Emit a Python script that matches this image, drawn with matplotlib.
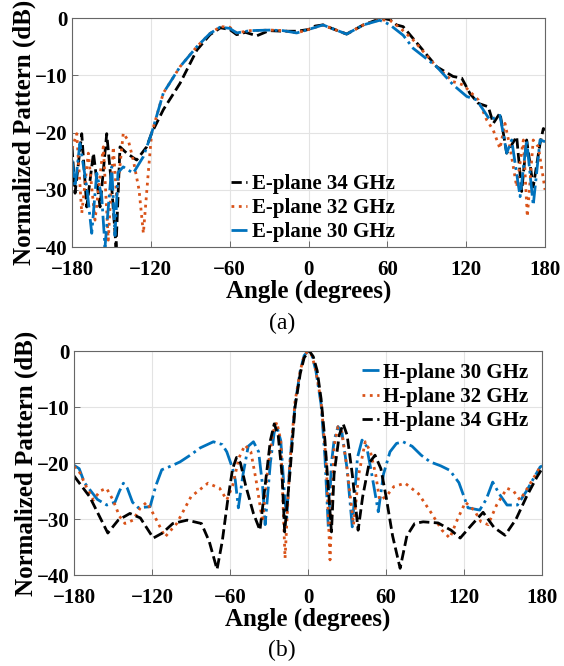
# -*- coding: utf-8 -*-
"""
E-plane / H-plane normalized radiation patterns
"""

import numpy as np
import matplotlib.pyplot as plt

plt.rcParams['font.family'] = ['Liberation Serif', 'DejaVu Serif']
plt.rcParams['font.weight'] = 'bold'

#### data (angle in degrees, pattern in dB) ####
e34_ang = [-180, -177.7, -172.6, -168.8, -163.7, -158.7, -153.6, -149.8, -146.5, -143.5,
           -138.4, -130.8, -123.2, -119.4, -110.5, -97.8, -85, -75, -67, -60, -54.7, -48,
           -39.4, -30, -19.4, -9, 0, 5, 11, 17.6, 29, 41.7, 55.7, 62, 67, 72, 84.8, 97.5,
           110, 116.6, 122.9, 129.2, 136.8, 140.6, 145.7, 150.8, 158.4, 162.2, 166, 171,
           176.2, 178.7, 180]
e34_db = [-22.5, -30.6, -20.2, -33, -23.6, -33, -20.2, -29.5, -40, -22.5,
          -23.6, -24.8, -22.5, -20.1, -16, -11.4, -5.6, -2.9, -1.7, -2.0, -2.9, -2.5,
          -3.1, -2.2, -2.3, -2.3, -2.0, -1.4, -1.2, -1.8, -2.8, -1.2, 0, -0.3, -1.2, -1.5, -5, -8.5,
          -10.2, -10.5, -13.2, -14.9, -15.5, -18.4, -16.6, -23.6, -20.7, -30.3, -21.3, -29.5,
          -21.9, -19.3, -19.5]

e32_ang = [-180, -176.4, -172.6, -167.6, -162.5, -156.2, -152.4, -148.6, -146, -141,
           -137, -133.4, -129, -125.7, -122, -119.4, -110.5, -97.8, -85, -75, -67, -60,
           -54.7, -44.5, -29.3, -19.4, -9, 0, 11, 17.6, 29, 41.7, 54, 62, 70, 79.5, 97.5,
           110, 117.8, 129.2, 135.6, 140.6, 145.7, 149.5, 153.3, 158.4, 163.5, 166.5, 171,
           174.9, 180]
e32_db = [-22.8, -20.2, -34.1, -23.6, -35.3, -22.5, -38.8, -22.5, -31.4, -20.1,
          -21.5, -24.8, -30, -37.6, -27.1, -20.1, -13.1, -8.5, -5, -2.7, -1.5, -1.6,
          -2.6, -2.2, -2.1, -2.2, -2.6, -2.0, -1.2, -1.8, -2.8, -1.2, -0.3, -0.4, -1.8, -3.8, -8.5,
          -11.1, -11.7, -14.3, -17.8, -19.6, -22.8, -18.4, -22.5, -29.5, -21.3, -34.7, -21.3,
          -22.5, -30]

e30_ang = [-180, -177.7, -174, -168.8, -165, -161.2, -157.4, -154.9, -149.8, -147.3,
           -145, -141, -133.4, -125.7, -119.4, -110.5, -97.8, -85, -75, -67.4, -60, -54.7,
           -44.5, -29.3, -19.4, -9, 0, 11, 17.6, 29, 41.7, 54, 57, 62, 72, 79.7, 97.5,
           110.2, 120.4, 128, 138, 145.7, 150.8, 154.6, 161, 166, 171, 176.2, 180]
e30_db = [-24.8, -29.5, -21.9, -29.5, -37.6, -27.1, -31.2, -40, -26, -38,
          -27, -26, -27.1, -24.2, -20.1, -13.1, -8.5, -5, -2.7, -1.6, -1.8, -2.6,
          -2.2, -2.1, -2.2, -2.6, -2.0, -1.2, -1.8, -2.8, -1.2, -0.4, -0.6, -1.2, -3.0, -5.3, -8.5,
          -11.7, -13.7, -14.3, -17.8, -17, -23.6, -21.3, -31.2, -21.3, -32.7, -21.3, -21.6]

h30_ang = [-180, -176, -172, -167.7, -162, -154.8, -148.5, -145, -142, -139, -135, -130.5,
           -121.5, -117, -112.5, -105, -98.5, -90, -83, -72.8, -66, -62.5, -58, -56, -53.6,
           -50, -46, -42, -38, -35, -33, -29, -26, -24, -21, -18, -16.4, -14, -10, -6, -3, 0,
           3, 6, 10, 13, 15.6, 18, 20, 23, 26, 30, 34, 38, 41.5, 45, 49, 54, 58, 63, 68, 73,
           80, 87, 94, 102, 109, 116, 123, 132, 137, 142, 147, 153, 161, 168, 174, 178.5, 180]
h30_db = [-20.4, -21, -23.5, -24.8, -26.5, -27.5, -27, -25, -23.6, -24.5, -27, -28,
          -27.8, -24, -21.2, -20.5, -19.8, -18.5, -17.3, -16.2, -16.7, -18, -21, -23, -28,
          -22, -17, -16.2, -18, -24, -31, -20, -14.5, -13.5, -16, -26, -29.8, -20, -9.5, -3.5, -0.8, 0,
          -0.8, -3.5, -9.5, -19, -31.6, -20, -16, -13.5, -14.5, -21, -31.4, -19, -15.9, -17, -22, -28.7, -22, -18, -16.5, -16.2,
          -17, -18.6, -19.8, -20.5, -21.3, -23.5, -28, -28.4, -26.5, -23.4, -25.5, -27.5, -27.5, -25, -22.5, -20.7, -20.5]

h32_ang = [-180, -176, -170, -165, -160, -155, -150, -145, -140.8, -134.6, -129, -124,
           -118, -110, -101, -90, -77, -68, -62.5, -58, -53, -48.5, -44, -40, -35, -31, -27,
           -24, -21, -17.7, -14, -10, -6, -3, 0, 3, 6, 10, 14, 16.9, 20, 23, 26, 30, 35, 39, 44,
           48, 52, 55, 60, 66, 74.6, 85, 95, 103, 109, 115, 121, 128, 133, 138.5, 145, 153,
           158, 163, 170, 178.5, 180]
h32_db = [-20.6, -21.5, -24.5, -26.6, -25, -24.5, -26.6, -29.5, -30.8, -30.2, -28, -27,
          -29.5, -33.2, -30.8, -26, -23.6, -24.5, -26.6, -24, -19, -16.8, -18, -23, -30.5, -21, -14.5,
          -12.7, -16, -37, -20, -9, -3.5, -0.8, 0, -0.8, -3.5, -9, -20, -37.3, -17, -13.5, -14.5, -21, -31, -22, -16.2,
          -18, -22, -26.6, -26, -24.2, -23.6, -25.5, -29, -32, -33.4, -30, -27, -28.5, -30.5, -31, -27.5, -24.5,
          -25, -26.6, -24, -20.7, -20.6]

h34_ang = [-180, -168, -154, -146, -137, -129, -119, -112, -104, -93, -82, -76, -70, -66,
           -62, -58, -55, -52, -48, -42, -37, -33, -29, -26, -23, -20, -18, -14, -10, -6, -3,
           0, 1, 4, 7, 10, 13, 18, 20, 24, 27, 30, 34, 38.5, 42, 47, 51.5, 56, 60, 65, 70.8,
           76, 82, 88.5, 100, 110, 117, 126, 134.6, 143, 151.5, 160, 168, 176, 180]
h34_db = [-22.3, -26, -32.5, -30.2, -29, -29.8, -33.4, -32.5, -30.8, -30.2, -30.8, -34, -39, -34,
          -27, -21, -19, -20, -24, -29, -32, -24, -16, -13, -15, -22, -32.3, -22, -10, -4, -1.2,
          -0.2, 0, -1, -3.5, -8.5, -16, -32.3, -22, -15, -13, -15, -22, -32, -26, -20, -18.6, -21, -26, -33, -38.8,
          -33, -30.8, -30.5, -30.7, -32, -33.4, -31, -28.8, -31.5, -32.9, -30, -26, -22.5, -21]

xticks = [-180, -120, -60, 0, 60, 120, 180]
yticks = [-40, -30, -20, -10, 0]

c_blue = '#0072BD'
c_orange = '#D95319'
c_black = 'black'
########################################


def style_ax(ax):
    ax.set_xlim(-180, 180)
    ax.set_ylim(-40, 0)
    ax.set_xticks(xticks)
    ax.set_yticks(yticks)
    ax.grid(True, color='#e3e3e3', linewidth=0.8)
    ax.set_axisbelow(True)
    ax.tick_params(direction='in', length=4, width=0.6, colors='#555555',
                   labelcolor='black', labelsize=15)
    ax.tick_params(axis='x', pad=9)
    ax.tick_params(axis='y', pad=3)
    for s in ax.spines.values():
        s.set_color('#666666')
        s.set_linewidth(0.8)
    for lab in ax.get_xticklabels() + ax.get_yticklabels():
        lab.set_fontweight('bold')
    ax.set_xlabel('Angle (degrees)', fontsize=18, fontweight='bold', labelpad=0)
    ax.set_ylabel('Normalized Pattern (dB)', fontsize=18, fontweight='bold', labelpad=-1)


fig = plt.figure(figsize=(5.64, 6.66), dpi=100)
ax1 = fig.add_axes([0.1277, 0.6291, 0.8387, 0.3438])
ax2 = fig.add_axes([0.1312, 0.1366, 0.8300, 0.3363])

lw = 2.0
ax1.plot(e34_ang, e34_db, color=c_black, ls='--', lw=lw, label='E-plane 34 GHz')
ax1.plot(e32_ang, e32_db, color=c_orange, ls=':', lw=lw, label='E-plane 32 GHz')
ax1.plot(e30_ang, e30_db, color=c_blue, ls='-.', lw=lw, label='E-plane 30 GHz')
style_ax(ax1)
ax1.legend(loc='lower left', bbox_to_anchor=(0.296, -0.062), frameon=False,
           prop={'size': 15, 'weight': 'bold'}, handlelength=0.8, handletextpad=0.2,
           labelspacing=0.2)

ax2.plot(h30_ang, h30_db, color=c_blue, ls='-.', lw=lw, label='H-plane 30 GHz')
ax2.plot(h32_ang, h32_db, color=c_orange, ls=':', lw=lw, label='H-plane 32 GHz')
ax2.plot(h34_ang, h34_db, color=c_black, ls='--', lw=lw, label='H-plane 34 GHz')
style_ax(ax2)
ax2.legend(loc='upper right', bbox_to_anchor=(1.011, 1.032), frameon=False,
           prop={'size': 15, 'weight': 'bold'}, handlelength=0.8, handletextpad=0.2,
           labelspacing=0.2)

fig.text(0.5, 1 - 323 / 666, '(a)', ha='center', va='center', fontsize=17, fontweight='normal')
fig.text(0.5, 1 - 650 / 666, '(b)', ha='center', va='center', fontsize=17, fontweight='normal')

plt.savefig('out.png', dpi=100)
